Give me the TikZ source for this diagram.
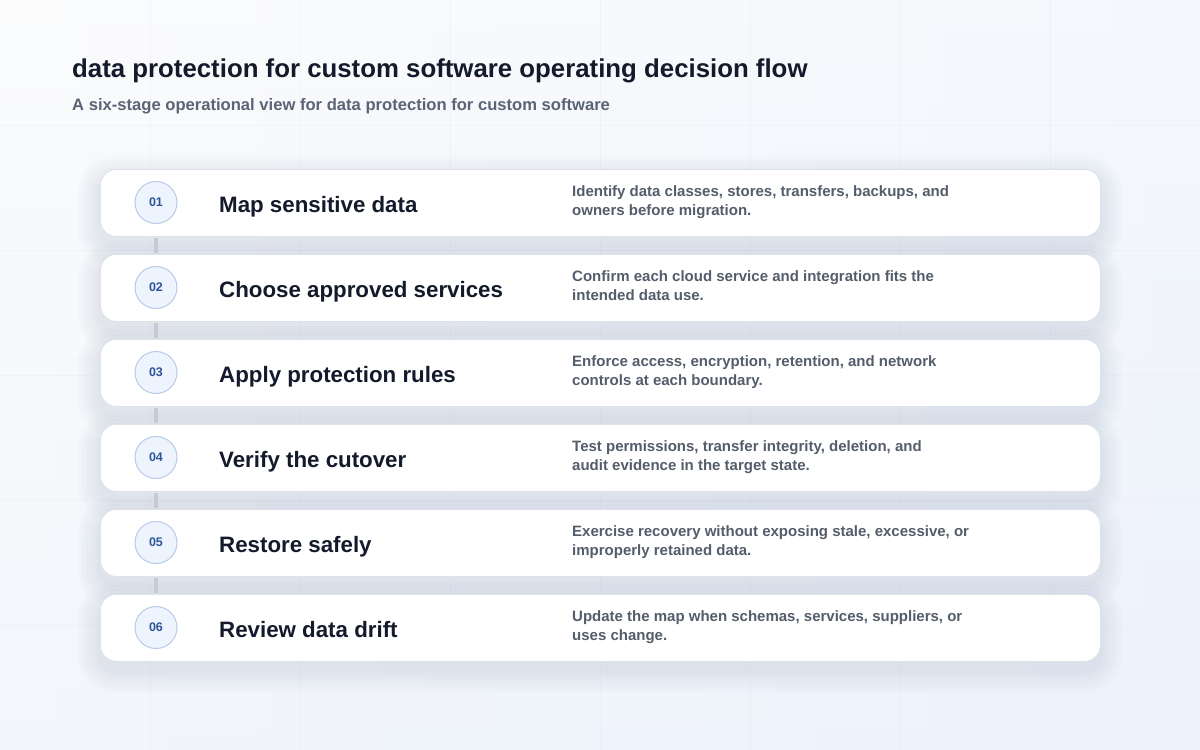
\documentclass[tikz,border=0pt]{standalone}
\usepackage{fontspec}
\setmainfont{Liberation Sans}
\usetikzlibrary{calc}
\definecolor{bgtl}{HTML}{F8F9FB}
\definecolor{bgbr}{HTML}{EDF2FB}
\definecolor{gridc}{HTML}{E6EAF1}
\definecolor{cardline}{HTML}{DCE1EA}
\definecolor{shadowc}{HTML}{8C96B4}
\definecolor{circfill}{HTML}{EEF4FD}
\definecolor{circline}{HTML}{B7CBE6}
\definecolor{numc}{HTML}{2F5596}
\definecolor{titlec}{HTML}{131A2B}
\definecolor{subc}{HTML}{5A6475}
\definecolor{descc}{HTML}{545D6B}
\definecolor{connc}{HTML}{C6CAD2}
\tikzset{
  cardbox/.style={draw=cardline, line width=0.8pt, fill=white, rounded corners=16pt,
    minimum width=1000pt, minimum height=67pt, inner sep=0pt, anchor=north west},
  numcirc/.style={circle, draw=circline, line width=1pt, fill=circfill, minimum size=42pt,
    inner sep=0pt, font=\bfseries\fontsize{12.5}{14}\selectfont, text=numc},
  steptitle/.style={anchor=base west, inner sep=0pt, font=\bfseries\fontsize{22.3}{26}\selectfont, text=titlec},
  stepdesc/.style={anchor=base west, inner sep=0pt, align=left, font=\bfseries\fontsize{15}{19}\selectfont, text=descc},
  connline/.style={draw=connc, line width=3.5pt}
}
\begin{document}
\begin{tikzpicture}[x=1pt,y=-1pt]
\useasboundingbox (0,0) rectangle (1200,750);
\shade[left color=bgtl, right color=bgbr] (0,0) rectangle (1200,750);
\shade[top color=white, bottom color=bgbr, opacity=0.45] (0,0) rectangle (1200,750);
% grid
\foreach \gx in {150,300,...,1050} \draw[gridc, line width=0.6pt, opacity=0.4] (\gx,0) -- (\gx,750);
\foreach \gy in {125,250,...,625} \draw[gridc, line width=0.6pt, opacity=0.4] (0,\gy) -- (1200,\gy);
% title
\node[anchor=base west, inner sep=0pt, font=\bfseries\fontsize{25.8}{30}\selectfont, text=titlec] (title) at (72,77) {data protection for custom software operating decision flow};
\node[anchor=base west, inner sep=0pt, font=\bfseries\fontsize{16.6}{19}\selectfont, text=subc] (subtitle) at (72,110) {A six-stage operational view for data protection for custom software};
% shadows
\foreach \i in {0,...,5} {
  \pgfmathsetmacro{\ty}{169+85*\i}
  \foreach \s in {22,18,14,10,6,3} {
    \pgfmathsetmacro{\rc}{16+\s}
    \fill[shadowc, opacity=0.03, rounded corners=\rc pt] (100-\s,\ty+9-\s) rectangle (1100+\s,\ty+67+9+\s);
  }
}
\foreach \i/\num/\ttl/\da/\db in {
  1/01/Map sensitive data/{Identify data classes, stores, transfers, backups, and}/{owners before migration.},
  2/02/Choose approved services/{Confirm each cloud service and integration fits the}/{intended data use.},
  3/03/Apply protection rules/{Enforce access, encryption, retention, and network}/{controls at each boundary.},
  4/04/Verify the cutover/{Test permissions, transfer integrity, deletion, and}/{audit evidence in the target state.},
  5/05/Restore safely/{Exercise recovery without exposing stale, excessive, or}/{improperly retained data.},
  6/06/Review data drift/{Update the map when schemas, services, suppliers, or}/{uses change.}} {
  \pgfmathsetmacro{\ty}{169+85*(\i-1)}
  \node[cardbox] (c\i) at (100,\ty) {};
  \node[numcirc] (n\i) at (156,\ty+33.5) {\num};
  \node[steptitle] (t\i) at (219,\ty+43) {\ttl};
  \node[stepdesc] (d\i) at (572,\ty+46.5) {\da\\\db};
}
\foreach \i/\j in {1/2,2/3,3/4,4/5,5/6} {
  \draw[connline] ($(n\i.south |- c\i.south)+(0,1.5)$) -- ($(n\j.north |- c\j.north)+(0,-1.5)$);
}
\end{tikzpicture}
\end{document}
